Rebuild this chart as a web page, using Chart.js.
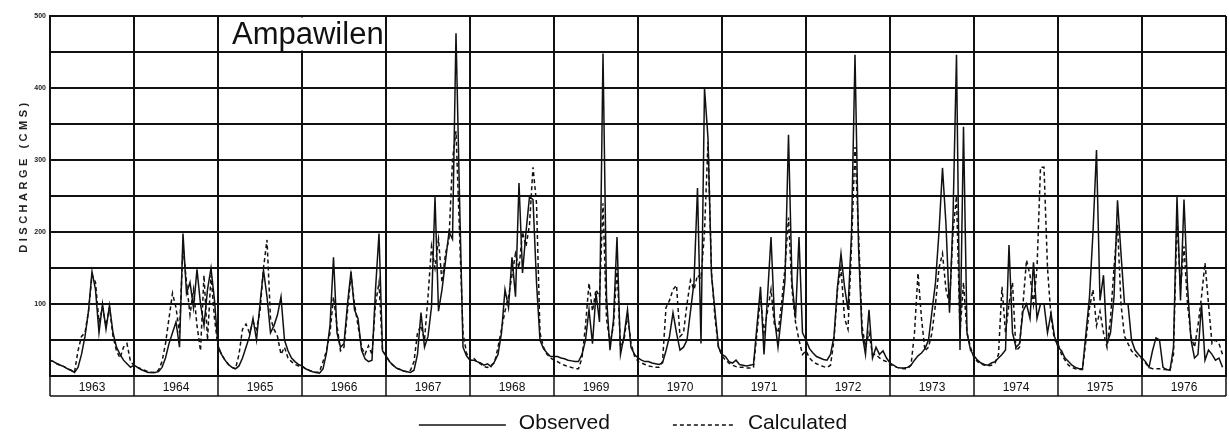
<!DOCTYPE html>
<html>
<head>
<meta charset="utf-8">
<script src="https://cdn.jsdelivr.net/npm/chart.js@4.4.1/dist/chart.umd.min.js"></script>
<style>
  html, body { margin: 0; padding: 0; background: #fff; }
  #wrap { width: 1229px; height: 438px; position: relative; }
</style>
</head>
<body>
<div id="wrap"><canvas id="hydro-chart"></canvas></div>
<script>
const years = ['1963', '1964', '1965', '1966', '1967', '1968', '1969',
               '1970', '1971', '1972', '1973', '1974', '1975', '1976'];
const stepsPerYear = 24;
const yTickLabels = [100, 200, 300, 400, 500];

const observed = [
  22, 20, 17, 15, 13, 10, 8, 5, 12, 30, 55, 90, 145, 120, 60, 100, 65, 98, 60, 40, 30, 22, 17, 12,          // 1963
  15, 12, 9, 7, 5, 5, 5, 6, 12, 25, 45, 60, 75, 40, 198, 115, 130, 95, 148, 100, 70, 120, 150, 105,        // 1964
  42, 30, 22, 16, 12, 10, 14, 25, 40, 55, 80, 50, 100, 147, 110, 60, 70, 85, 110, 50, 35, 25, 20, 16,     // 1965
  14, 10, 8, 6, 5, 4, 10, 32, 70, 165, 60, 40, 45, 100, 145, 92, 80, 36, 24, 20, 22, 120, 198, 35,        // 1966
  28, 20, 15, 11, 9, 7, 6, 5, 8, 30, 88, 40, 55, 96, 249, 90, 120, 160, 200, 190, 476, 249, 40, 28,       // 1967
  22, 22, 20, 18, 15, 17, 13, 20, 30, 60, 120, 95, 165, 110, 268, 143, 200, 249, 245, 130, 50, 38, 32, 27, // 1968
  27, 27, 25, 24, 22, 21, 20, 20, 30, 50, 92, 45, 115, 75, 448, 110, 36, 78, 193, 30, 55, 92, 40, 30,     // 1969
  25, 22, 20, 20, 18, 17, 16, 18, 35, 55, 88, 60, 36, 40, 50, 90, 130, 261, 45, 400, 330, 140, 90, 40,    // 1970
  30, 27, 20, 18, 22, 16, 15, 14, 15, 16, 70, 124, 30, 110, 193, 80, 40, 85, 133, 335, 130, 80, 193, 60,  // 1971
  50, 38, 32, 27, 25, 23, 22, 30, 55, 124, 170, 124, 92, 198, 446, 180, 60, 30, 92, 25, 40, 30, 35, 25,   // 1972
  18, 15, 12, 11, 11, 12, 15, 22, 28, 32, 38, 50, 90, 130, 200, 289, 210, 88, 220, 446, 36, 346, 60, 36,  // 1973
  28, 22, 18, 16, 15, 18, 20, 25, 30, 36, 182, 60, 40, 45, 90, 100, 80, 158, 80, 100, 100, 60, 87, 55,    // 1974
  40, 35, 25, 20, 15, 12, 10, 10, 60, 110, 200, 314, 105, 140, 45, 60, 110, 244, 170, 100, 100, 50, 36, 30, // 1975
  25, 20, 12, 35, 53, 50, 12, 9, 8, 40, 249, 105, 245, 125, 50, 25, 30, 100, 22, 36, 30, 22, 25, 12       // 1976
];

const calculated = [
  22, 20, 17, 15, 13, 10, 8, 5, 35, 55, 60, 90, 140, 130, 75, 95, 70, 95, 55, 35, 25, 40, 45, 20,         // 1963
  15, 12, 10, 8, 6, 5, 5, 8, 20, 45, 80, 115, 95, 60, 180, 130, 85, 120, 70, 35, 140, 50, 140, 80,         // 1964
  40, 30, 22, 16, 12, 10, 30, 65, 72, 60, 75, 65, 90, 150, 189, 80, 65, 55, 30, 40, 25, 20, 16, 14,       // 1965
  14, 10, 8, 6, 5, 6, 20, 35, 60, 110, 70, 35, 40, 90, 140, 100, 70, 40, 30, 42, 30, 100, 130, 35,        // 1966
  28, 20, 15, 11, 9, 7, 6, 8, 20, 60, 70, 50, 110, 180, 150, 190, 130, 170, 190, 300, 340, 200, 60, 32,   // 1967
  22, 25, 20, 17, 13, 12, 15, 18, 40, 65, 90, 110, 140, 170, 150, 200, 180, 210, 290, 240, 60, 40, 30, 25, // 1968
  22, 20, 17, 15, 13, 12, 10, 10, 25, 70, 129, 90, 120, 110, 240, 80, 45, 70, 150, 40, 50, 85, 45, 28,    // 1969
  20, 18, 16, 14, 13, 12, 12, 20, 95, 105, 120, 126, 55, 60, 100, 133, 120, 140, 135, 200, 325, 145, 80, 40, // 1970
  28, 22, 18, 15, 13, 12, 12, 11, 11, 12, 60, 110, 60, 90, 120, 70, 60, 100, 150, 220, 120, 75, 50, 30,   // 1971
  35, 25, 20, 17, 15, 13, 12, 15, 50, 120, 150, 80, 65, 180, 318, 200, 70, 40, 60, 30, 30, 25, 22, 20,    // 1972
  16, 14, 12, 11, 10, 10, 15, 60, 143, 80, 35, 40, 60, 100, 150, 170, 120, 100, 200, 250, 60, 130, 60, 40, // 1973
  25, 20, 17, 15, 14, 15, 18, 30, 124, 60, 100, 130, 35, 40, 100, 161, 140, 100, 150, 290, 290, 150, 82, 50, // 1974
  45, 30, 22, 15, 12, 10, 9, 9, 50, 95, 120, 70, 90, 60, 40, 80, 150, 210, 100, 55, 45, 35, 30, 25,      // 1975
  25, 18, 12, 10, 10, 10, 9, 9, 8, 30, 220, 120, 180, 100, 55, 40, 70, 110, 157, 100, 45, 50, 45, 30     // 1976
];

function toPoints(values) {
  return values.map((v, i) => ({ x: i / stepsPerYear, y: v }));
}

const FONT = '"Liberation Sans", Arial, sans-serif';

// white box with the station name in the top row of the grid
const stationTitle = {
  id: 'stationTitle',
  afterDraw(chart) {
    const { ctx, scales } = chart;
    const x0 = scales.x.getPixelForValue(2);
    const x1 = scales.x.getPixelForValue(4);
    const y0 = scales.y.getPixelForValue(500);
    const y1 = scales.y.getPixelForValue(450);
    ctx.save();
    ctx.fillStyle = '#fff';
    ctx.fillRect(x0 + 1.5, y0 + 1.5, x1 - x0 - 3, y1 - y0 - 3);
    ctx.fillStyle = '#111';
    ctx.font = '31px ' + FONT;
    ctx.textBaseline = 'middle';
    ctx.fillText('Ampawilen', x0 + 14, (y0 + y1) / 2 + 1);
    ctx.restore();
  }
};

// boxes round the year labels under the plot
const yearBand = {
  id: 'yearBand',
  afterDraw(chart) {
    const { ctx, chartArea, scales } = chart;
    const top = chartArea.bottom;
    const bottom = top + 20;
    ctx.save();
    ctx.strokeStyle = '#111';
    ctx.lineWidth = 1.5;
    ctx.beginPath();
    ctx.moveTo(chartArea.left, bottom);
    ctx.lineTo(chartArea.right, bottom);
    for (let k = 0; k <= years.length; k++) {
      const px = scales.x.getPixelForValue(k);
      ctx.moveTo(px, top);
      ctx.lineTo(px, bottom);
    }
    ctx.stroke();
    ctx.restore();
  }
};

// vertical axis title, letter spaced like the typed original
const axisTitle = {
  id: 'axisTitle',
  afterDraw(chart) {
    const { ctx } = chart;
    ctx.save();
    ctx.translate(24, 176);
    ctx.rotate(-Math.PI / 2);
    ctx.font = 'bold 11px ' + FONT;
    ctx.letterSpacing = '3.5px';
    ctx.fillStyle = '#222';
    ctx.textAlign = 'center';
    ctx.textBaseline = 'middle';
    ctx.fillText('DISCHARGE (CMS)', 0, 0);
    ctx.restore();
  }
};

// legend under the chart: long line sample + label
const lineLegend = {
  id: 'lineLegend',
  afterDraw(chart) {
    const { ctx, chartArea } = chart;
    const sets = chart.data.datasets;
    const sampleLen = [87, 62];
    const gapText = 13, gapItems = 63;
    ctx.save();
    ctx.font = '21px ' + FONT;
    let total = 0;
    sets.forEach((ds, i) => { total += sampleLen[i] + gapText + ctx.measureText(ds.label).width; });
    total += gapItems * (sets.length - 1);
    let x = (chartArea.left + chartArea.right) / 2 - 5 - total / 2;
    const y = chart.height - 15;
    sets.forEach((ds, i) => {
      ctx.strokeStyle = '#111';
      ctx.lineWidth = 1.3;
      ctx.setLineDash(ds.borderDash || []);
      ctx.beginPath();
      ctx.moveTo(x, y + 2);
      ctx.lineTo(x + sampleLen[i], y + 2);
      ctx.stroke();
      x += sampleLen[i] + gapText;
      ctx.fillStyle = '#111';
      ctx.textBaseline = 'middle';
      ctx.fillText(ds.label, x, y);
      x += ctx.measureText(ds.label).width + gapItems;
    });
    ctx.restore();
  }
};

new Chart(document.getElementById('hydro-chart'), {
  type: 'line',
  data: {
    datasets: [{
      label: 'Observed',
      data: toPoints(observed),
      borderColor: '#111',
      borderWidth: 1.5,
      pointRadius: 0,
      tension: 0,
      fill: false
    }, {
      label: 'Calculated',
      data: toPoints(calculated),
      borderColor: '#111',
      borderWidth: 1.5,
      borderDash: [4, 3],
      pointRadius: 0,
      tension: 0,
      fill: false
    }]
  },
  options: {
    responsive: true,
    maintainAspectRatio: false,
    animation: false,
    devicePixelRatio: 1,
    layout: { padding: { left: 0, right: 3, top: 16, bottom: 42 } },
    plugins: {
      legend: { display: false },
      tooltip: { enabled: false }
    },
    scales: {
      x: {
        type: 'linear',
        min: 0,
        max: years.length,
        ticks: { display: false, stepSize: 1 },
        grid: { color: '#111', lineWidth: 2, drawTicks: false },
        border: { color: '#111', width: 2 },
        afterFit(scale) { scale.height = 0; }
      },
      years: {
        type: 'category',
        position: 'bottom',
        labels: years,
        offset: true,
        grid: { display: false, drawTicks: false },
        border: { display: false },
        ticks: {
          color: '#111',
          padding: 4,
          maxRotation: 0,
          font: { family: FONT, size: 12 }
        },
        afterFit(scale) { scale.height = 20; }
      },
      y: {
        min: 0,
        max: 500,
        ticks: {
          stepSize: 50,
          padding: 4,
          color: '#222',
          font: { family: FONT, size: 7, weight: 'bold' },
          callback: (v) => (yTickLabels.includes(v) ? String(v) : '')
        },
        grid: { color: '#111', lineWidth: 2, drawTicks: false },
        border: { color: '#111', width: 2 },
        afterFit(scale) { scale.width = 50; }
      }
    }
  },
  plugins: [stationTitle, yearBand, axisTitle, lineLegend]
});
</script>
</body>
</html>
